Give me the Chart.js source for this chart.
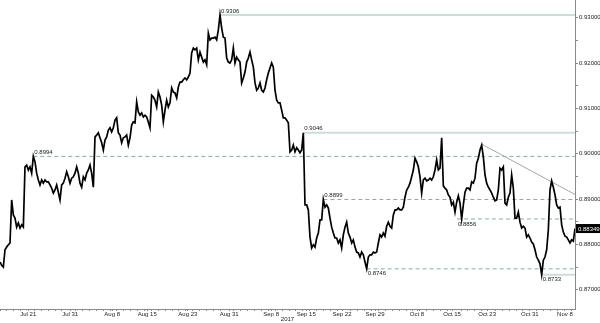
<!DOCTYPE html>
<html>
<head>
<meta charset="utf-8">
<script src="https://cdn.jsdelivr.net/npm/chart.js@4"></script>
<style>
  html, body { margin: 0; padding: 0; background: #fff; }
  #contenedor { width: 600px; height: 323px; position: relative; }
</style>
</head>
<body>
<div id="contenedor"><canvas id="myChart"></canvas></div>
<script>
// precio, una muestra cada ~0.242 dias de trading
const precios = [
  0.8761, 0.8754, 0.8750, 0.8788, 0.8794, 0.8799, 0.8803, 0.8898, 0.8865, 0.8858, 0.8838, 0.8847, 0.8836, 0.8843, 0.8838,
  0.8971, 0.8975, 0.8964, 0.8971, 0.8957, 0.8994, 0.8982, 0.8957, 0.8942, 0.8931, 0.8942, 0.8935, 0.8942, 0.8938, 0.8938,
  0.8931, 0.8924, 0.8913, 0.8920, 0.8931, 0.8915, 0.8898, 0.8931, 0.8935, 0.8946, 0.8960, 0.8949, 0.8935, 0.8946, 0.8949,
  0.8957, 0.8971, 0.8957, 0.8935, 0.8926, 0.8949, 0.8942, 0.8957, 0.8964, 0.8975, 0.8957, 0.8926, 0.9037, 0.9041, 0.9046,
  0.9035, 0.9024, 0.9008, 0.9030, 0.9037, 0.9052, 0.9057, 0.9048, 0.9057, 0.9074, 0.9079, 0.9046, 0.9041, 0.9024, 0.9035,
  0.9037, 0.9041, 0.9019, 0.9035, 0.9063, 0.9070, 0.9068, 0.9114, 0.9092, 0.9085, 0.9090, 0.9081, 0.9085, 0.9081, 0.9070,
  0.9057, 0.9129, 0.9125, 0.9118, 0.9103, 0.9136, 0.9125, 0.9107, 0.9070, 0.9096, 0.9118, 0.9103, 0.9112, 0.9145, 0.9136,
  0.9134, 0.9123, 0.9147, 0.9158, 0.9158, 0.9163, 0.9167, 0.9163, 0.9169, 0.9178, 0.9222, 0.9233, 0.9229, 0.9233, 0.9207,
  0.9224, 0.9213, 0.9202, 0.9207, 0.9196, 0.9266, 0.9251, 0.9255, 0.9255, 0.9257, 0.9251, 0.9273, 0.9306, 0.9277, 0.9257,
  0.9255, 0.9211, 0.9202, 0.9200, 0.9207, 0.9233, 0.9200, 0.9213, 0.9207, 0.9202, 0.9156, 0.9167, 0.9180, 0.9202, 0.9211,
  0.9224, 0.9207, 0.9191, 0.9156, 0.9140, 0.9145, 0.9156, 0.9140, 0.9136, 0.9145, 0.9163, 0.9178, 0.9189, 0.9200, 0.9191,
  0.9140, 0.9118, 0.9112, 0.9112, 0.9096, 0.9079, 0.9079, 0.9074, 0.9068, 0.9004, 0.9008, 0.9019, 0.9004, 0.9013, 0.9008,
  0.9002, 0.9008, 0.9046, 0.8887, 0.8887, 0.8876, 0.8816, 0.8792, 0.8799, 0.8794, 0.8814, 0.8825, 0.8854, 0.8854, 0.8899,
  0.8882, 0.8887, 0.8880, 0.8858, 0.8838, 0.8825, 0.8814, 0.8814, 0.8803, 0.8810, 0.8792, 0.8821, 0.8838, 0.8849, 0.8825,
  0.8816, 0.8803, 0.8810, 0.8794, 0.8783, 0.8781, 0.8772, 0.8783, 0.8777, 0.8761, 0.8746, 0.8772, 0.8777, 0.8777, 0.8783,
  0.8781, 0.8783, 0.8803, 0.8821, 0.8816, 0.8825, 0.8818, 0.8840, 0.8849, 0.8840, 0.8836, 0.8865, 0.8876, 0.8876, 0.8880,
  0.8876, 0.8876, 0.8882, 0.8904, 0.8920, 0.8926, 0.8935, 0.8949, 0.8964, 0.8990, 0.8982, 0.8971, 0.8949, 0.8913, 0.8942,
  0.8946, 0.8940, 0.8942, 0.8946, 0.8942, 0.8949, 0.8964, 0.8986, 0.8964, 0.8968, 0.9035, 0.8929, 0.8924, 0.8920, 0.8909,
  0.8904, 0.8887, 0.8893, 0.8871, 0.8893, 0.8907, 0.8891, 0.8856, 0.8887, 0.8915, 0.8924, 0.8924, 0.8920, 0.8938, 0.8935,
  0.8946, 0.8979, 0.8990, 0.9008, 0.9019, 0.8993, 0.8953, 0.8935, 0.8926, 0.8920, 0.8913, 0.8904, 0.8896, 0.8898, 0.8920,
  0.8968, 0.8964, 0.8971, 0.8891, 0.8887, 0.8904, 0.8913, 0.8953, 0.8924, 0.8858, 0.8858, 0.8871, 0.8849, 0.8836, 0.8840,
  0.8836, 0.8816, 0.8821, 0.8814, 0.8805, 0.8801, 0.8788, 0.8772, 0.8765, 0.8757, 0.8733, 0.8765, 0.8772, 0.8788, 0.8832,
  0.8920, 0.8940, 0.8926, 0.8909, 0.8887, 0.8880, 0.8882, 0.8843, 0.8827, 0.8818, 0.8816, 0.8810, 0.8803, 0.8810, 0.8807,
  0.88349
];
const pasoMuestra = 0.2422; // dias de trading entre muestras

// etiquetas del eje x y su posicion en dias de trading
const etiquetasX = ["Jul 21", "Jul 31", "Aug 8", "Aug 15", "Aug 23", "Aug 31", "Sep 8", "Sep 15",
  "Sep 22", "Sep 29", "Oct 8", "Oct 15", "Oct 23", "Oct 31", "Nov 8"];
const diasEtiquetasX = [4.1, 10.2, 16.3, 21.4, 27.3, 33.3, 39.4, 44.5, 49.7, 54.5, 60.6, 65.7, 70.8, 77.0, 82.1];

// ticks del eje y (los de 0.005 sin texto)
const ticksY = [0.87, 0.875, 0.88, 0.885, 0.89, 0.895, 0.90, 0.905, 0.91, 0.915, 0.92, 0.925, 0.93];
const yMin = 0.86574;
const yMax = 0.9339;

// niveles marcados (maximos / minimos)
const nivelesValor = [0.9306, 0.9046, 0.8994, 0.8899, 0.8856, 0.8746, 0.8733];
const nivelesInicio = [31.97, 44.08, 4.84, 46.99, 66.4, 53.28, 78.72];
const nivelesPunteado = [false, false, true, true, true, true, false];
const nivelesArriba = [true, true, true, true, false, false, false];

// linea de tendencia bajista
const tendenciaDias = [70.0, 83.56];
const tendenciaValor = [0.9021, 0.8910];

const xMax = (precios.length - 1) * pasoMuestra;
const fuente = '"Liberation Sans", Arial, sans-serif';

const puntosPrecio = precios.map((v, i) => ({ x: i * pasoMuestra, y: v }));

const datasets = [
  {
    label: "precio",
    data: puntosPrecio,
    borderColor: "#000",
    borderWidth: 1.7,
    pointRadius: 0,
    tension: 0
  },
  {
    label: "tendencia",
    data: tendenciaDias.map((d, i) => ({ x: d, y: tendenciaValor[i] })),
    borderColor: "#a6a6a6",
    borderWidth: 1,
    pointRadius: 0
  }
];

nivelesValor.forEach((v, i) => {
  datasets.push({
    label: "nivel " + v,
    data: [{ x: nivelesInicio[i], y: v }, { x: xMax, y: v }],
    borderColor: nivelesPunteado[i] ? "#86aea2" : "#cadfd8",
    borderWidth: nivelesPunteado[i] ? 1 : 2,
    borderDash: nivelesPunteado[i] ? [4, 3] : [],
    pointRadius: 0
  });
});

// textos de los niveles y caja del ultimo precio
const pluginEtiquetas = {
  id: "etiquetas",
  afterDatasetsDraw(chart) {
    const ctx = chart.ctx;
    const sx = chart.scales.x;
    const sy = chart.scales.y;
    ctx.save();
    ctx.font = "6px " + fuente;
    ctx.textAlign = "left";
    ctx.fillStyle = "#222";
    nivelesValor.forEach((v, i) => {
      const px = sx.getPixelForValue(nivelesInicio[i]);
      const py = sy.getPixelForValue(v);
      if (nivelesArriba[i]) {
        ctx.textBaseline = "bottom";
        ctx.fillText(v.toFixed(4), px + 1, py - 1);
      } else {
        ctx.textBaseline = "top";
        ctx.fillText(v.toFixed(4), px + 1, py + 2);
      }
    });
    const ultimo = precios[precios.length - 1];
    const py = sy.getPixelForValue(ultimo);
    ctx.fillStyle = "#000";
    ctx.fillRect(sx.right + 1, py - 4.5, chart.width - sx.right - 1, 9);
    ctx.fillStyle = "#fff";
    ctx.textBaseline = "middle";
    ctx.fillText(ultimo.toFixed(5), sx.right + 3, py + 0.5);
    ctx.restore();
  }
};

const config = {
  type: "line",
  data: { datasets },
  options: {
    responsive: true,
    maintainAspectRatio: false,
    animation: false,
    devicePixelRatio: 1,
    layout: { padding: 0 },
    plugins: { legend: { display: false }, tooltip: { enabled: false } },
    scales: {
      x: {
        type: "linear",
        min: 0,
        max: xMax,
        position: "bottom",
        grid: { drawOnChartArea: false, tickLength: 2, color: "#8a8a8a" },
        border: { color: "#8a8a8a" },
        ticks: {
          autoSkip: false,
          maxRotation: 0,
          padding: 0,
          color: "#222",
          font: { family: fuente, size: 6 },
          callback: (value) => {
            const i = diasEtiquetasX.findIndex((d) => Math.abs(d - value) < 1e-6);
            return i >= 0 ? etiquetasX[i] : "";
          }
        },
        title: { display: true, text: "2017", color: "#222", font: { family: fuente, size: 6 }, padding: 0 },
        afterBuildTicks: (scale) => {
          // un tick corto por dia, sin repetir los que llevan fecha
          const t = diasEtiquetasX.slice();
          for (let d = 0; d <= 83; d++) {
            if (!diasEtiquetasX.some((e) => Math.abs(e - d) < 0.3)) t.push(d);
          }
          t.sort((a, b) => a - b);
          scale.ticks = t.map((v) => ({ value: v }));
        },
        afterFit: (scale) => {
          scale.height = 14;
          scale.paddingLeft = 0;
          scale.paddingRight = 0;
        }
      },
      y: {
        type: "linear",
        position: "right",
        min: yMin,
        max: yMax,
        grid: { drawOnChartArea: false, tickLength: 3, color: "#8a8a8a" },
        border: { color: "#8a8a8a" },
        ticks: {
          padding: 1,
          color: "#222",
          font: { family: fuente, size: 6 },
          callback: (value) => {
            const c = value * 100;
            return Math.abs(c - Math.round(c)) < 1e-6 ? value.toFixed(5) : "";
          }
        },
        afterBuildTicks: (scale) => {
          scale.ticks = ticksY.map((v) => ({ value: v }));
        },
        afterFit: (scale) => {
          scale.width = 25;
          scale.paddingTop = 0;
          scale.paddingBottom = 0;
        }
      }
    }
  },
  plugins: [pluginEtiquetas]
};

const chartDOM = document.getElementById("myChart");
new Chart(chartDOM, config);
</script>
</body>
</html>
